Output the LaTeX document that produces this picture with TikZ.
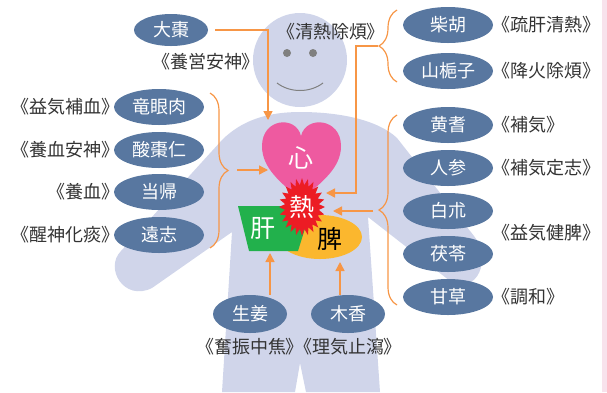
\documentclass[tikz,border=0pt]{standalone}
\usepackage{fontspec}
\setmainfont{Noto Sans CJK JP}[RawFeature=+palt]
\usetikzlibrary{positioning, arrows.meta, calc, shapes.geometric, decorations.pathreplacing}

\definecolor{skin}{RGB}{208,213,234}
\definecolor{herbblue}{RGB}{88,119,160}
\definecolor{linkorange}{RGB}{247,150,70}
\definecolor{heartpink}{RGB}{238,90,160}
\definecolor{firered}{RGB}{236,28,36}
\definecolor{livergreen}{RGB}{34,177,76}
\definecolor{spleenyellow}{RGB}{251,183,46}
\definecolor{edgepink}{RGB}{248,226,236}

\tikzset{
  herb/.style={ellipse, fill=herbblue, text=white, minimum width=90pt, minimum height=36pt,
    inner sep=0pt, font=\fontsize{18}{20}\selectfont},
  herbs/.style={herb, minimum width=74pt},
  note/.style={inner sep=0pt, text=black!80, font=\fontsize{18}{20}\selectfont},
  organ/.style={inner sep=0pt, font=\fontsize{25}{27}\selectfont},
  link/.style={draw=linkorange, line width=1.4pt},
  arr/.style={link, -{Triangle[length=9pt,width=9pt]}},
  grp/.style={draw=linkorange, line width=1.2pt, decorate, decoration={brace, amplitude=18pt}},
}

\begin{document}
\begin{tikzpicture}[x=1pt, y=-1pt]
  \useasboundingbox (0,0) rectangle (607,392);
  \fill[edgepink] (602,0) rectangle (607,392);

  % body
  \fill[skin] (300,60) circle (47);
  \fill[skin] (300,112)
    .. controls (340,112) and (378,120) .. (397,138)
    -- (474,236)
    .. controls (492,258) and (478,296) .. (450,281)
    -- (368,217) -- (380,392) -- (306,392) -- (300,363) -- (295,392) -- (222,392) -- (232,232)
    -- (152,288)
    .. controls (124,302) and (104,268) .. (121,251)
    -- (222,140)
    .. controls (242,120) and (268,112) .. (300,112) -- cycle;
  \fill[black!50] (287,53) circle (4) (313,53) circle (4);
  \draw[black!50, line width=1pt] (277,83) .. controls (290,93) and (310,93) .. (323,83);

  % organs
  \fill[spleenyellow] (320,237) ellipse [x radius=42, y radius=22];
  \fill[livergreen] (238,206) -- (312,206) -- (298,251) -- (249,251) -- cycle;
  \fill[heartpink] (301,200) .. controls (280,182) and (262,168) .. (262,146)
    .. controls (262,118) and (296,115) .. (301,136)
    .. controls (306,115) and (341,118) .. (341,146)
    .. controls (341,168) and (322,182) .. (301,200) -- cycle;
  \coordinate (rec) at (302,207);
  \fill[firered] ($(rec)+(0:23 and 29)$)
    \foreach \k in {0,...,23} { -- ($(rec)+({15*\k+7.5}:17 and 22)$) -- ($(rec)+({15*\k+15}:23 and 29)$) } -- cycle;
  \node[organ, text=white] (xin) at (301,158) {心};
  \node[organ, text=white] (re) at (rec) {熱};
  \node[organ, text=white] (gan) at (263,228) {肝};
  \node[organ] (pi) at (330,239) {脾};

  % herbs
  \node[herbs, minimum height=32pt] (dazao) at (171,30) {大棗};
  \node[herb] (chaihu) at (448,25) {柴胡};
  \node[herb] (shanzhizi) at (448,71) {山梔子};
  \node[herb] (longyan) at (159,107) {竜眼肉};
  \node[herb] (suanzao) at (159,150) {酸棗仁};
  \node[herb] (danggui) at (159,192) {当帰};
  \node[herb] (yuanzhi) at (159,235) {遠志};
  \node[herb] (huangqi) at (448,125) {黄耆};
  \node[herb] (renshen) at (448,168) {人参};
  \node[herb] (baizhu) at (448,211) {白朮};
  \node[herb] (fuling) at (448,254) {茯苓};
  \node[herb] (gancao) at (448,297) {甘草};
  \node[herbs, minimum height=38pt] (shengjiang) at (250,314) {生姜};
  \node[herbs, minimum height=38pt] (muxiang) at (348,314) {木香};

  % effects
  \node[note] (yangying) at (206,62) {《養営安神》};
  \node[note] (qingre) at (331,32) {《清熱除煩》};
  \node[note, right=8pt of chaihu] (shugan) {《疏肝清熱》};
  \node[note, right=8pt of shanzhizi] (jianghuo) {《降火除煩》};
  \node[note, left=3pt of longyan] (yiqibuxue) {《益気補血》};
  \node[note, left=3pt of suanzao] (yangxue) {《養血安神》};
  \node[note, left=3pt of danggui] (yangxue2) {《養血》};
  \node[note, left=3pt of yuanzhi] (xingshen) {《醒神化痰》};
  \node[note, right=8pt of huangqi] (buqi) {《補気》};
  \node[note, right=8pt of renshen] (dingzhi) {《補気定志》};
  \node[note, anchor=west] (jianpi) at ($(baizhu.east)!.5!(fuling.east)+(8,0)$) {《益気健脾》};
  \node[note, right=8pt of gancao] (tiaohe) {《調和》};
  \node[note, below=5pt of shengjiang] (fenzhen) {《奮振中焦》};
  \node[note, below=5pt of muxiang] (liqi) {《理気止瀉》};

  % braces and arrows
  \draw[grp] (210,93) -- (210,248);
  \draw[grp] (397,82) -- (397,10);
  \draw[grp] (397,305) -- (397,115);
  \coordinate (tipL) at (228,170);
  \coordinate (tipR1) at (378,46);
  \coordinate (tipR2) at (379,211);
  \coordinate (xinN) at (268,120);
  \coordinate (xinW) at (268,170);
  \coordinate (reE) at (326,193);
  \coordinate (reE2) at (333,211);
  \coordinate (ganS) at (270,253);
  \coordinate (piS) at (340,262);
  \draw[arr] ([xshift=7pt]dazao.east) -| (xinN);
  \draw[arr] (tipR1) -- ++(-22,0) |- (reE);
  \draw[arr] ([xshift=9pt]tipL) -- (xinW);
  \draw[arr] ([xshift=-6pt]tipR2) -- (reE2);
  \draw[arr] (shengjiang.north -| ganS) -- (ganS);
  \draw[arr] (muxiang.north -| piS) -- (piS);
\end{tikzpicture}
\end{document}
